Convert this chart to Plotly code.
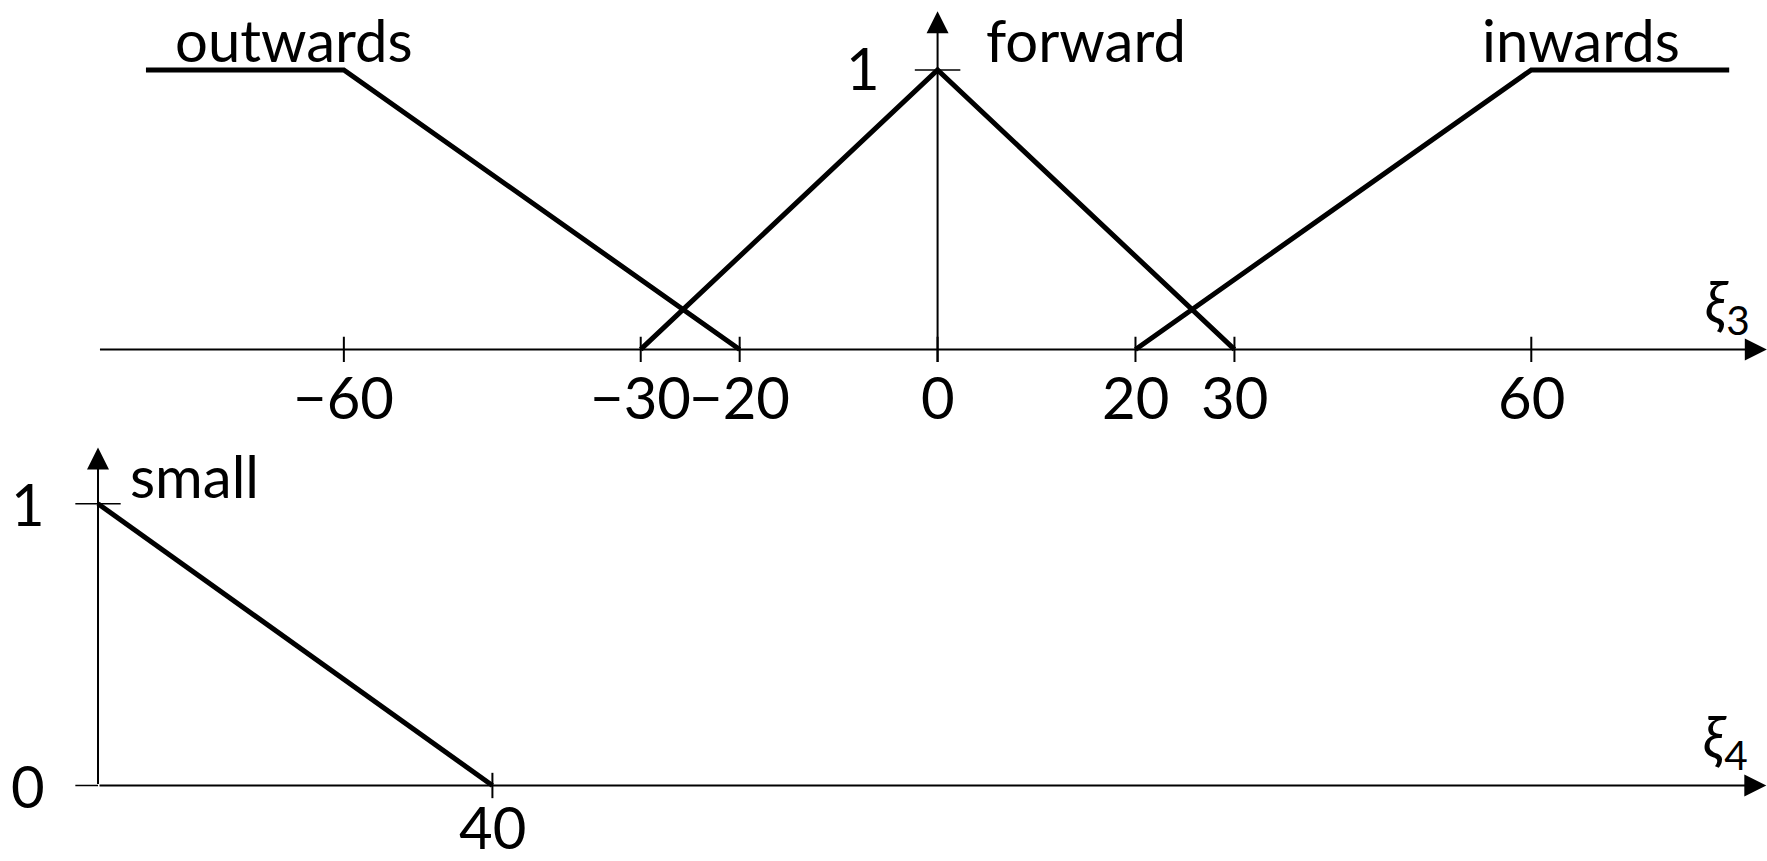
import plotly.graph_objects as go

# membership functions, angle xi3 (degrees) and distance xi4
outwards_x = [-80, -60, -20]
outwards_y = [1, 1, 0]
forward_x = [-30, 0, 30]
forward_y = [0, 1, 0]
inwards_x = [20, 60, 80]
inwards_y = [0, 1, 1]
small_x = [0, 40]
small_y = [1, 0]

top_ticks = [-60, -30, -20, 0, 20, 30, 60]
top_tick_text = ["\u221260", "\u221230", "\u221220", "0", "20", "30", "60"]
bottom_ticks = [40]
bottom_tick_text = ["40"]

FONT = "Lato"
FS = 58
INK = "black"

fig = go.Figure()

for xs, ys in [(outwards_x, outwards_y), (forward_x, forward_y), (inwards_x, inwards_y)]:
    fig.add_trace(go.Scatter(x=xs, y=ys, mode="lines", xaxis="x", yaxis="y",
                             line=dict(color=INK, width=5), hoverinfo="skip"))
fig.add_trace(go.Scatter(x=small_x, y=small_y, mode="lines", xaxis="x2", yaxis="y2",
                         line=dict(color=INK, width=5), hoverinfo="skip"))

shapes = []
annotations = []


def arrow(xref, yref, x0, y0, x1, y1):
    annotations.append(dict(x=x1, y=y1, ax=x0, ay=y0, xref=xref, yref=yref,
                            axref=xref, ayref=yref, text="", showarrow=True,
                            arrowhead=2, arrowsize=2.2, arrowwidth=2, arrowcolor=INK))


def label(xref, yref, x, y, text, xanchor="center", yanchor="middle"):
    annotations.append(dict(x=x, y=y, xref=xref, yref=yref, text=text, showarrow=False,
                            xanchor=xanchor, yanchor=yanchor,
                            font=dict(family=FONT, size=FS, color=INK)))


# top panel axes
arrow("x", "y", -84.8, 0, 83.8, 0)
arrow("x", "y", 0, -0.05, 0, 1.21)
for t, s in zip(top_ticks, top_tick_text):
    shapes.append(dict(type="line", xref="x", yref="y", x0=t, x1=t, y0=-0.045, y1=0.045,
                       line=dict(color=INK, width=2)))
    label("x", "y", t, -0.17, s)
shapes.append(dict(type="line", xref="x", yref="y", x0=-2.3, x1=2.3, y0=1, y1=1,
                   line=dict(color=INK, width=1.5)))
label("x", "y", -5.6, 1.01, "1", xanchor="right")
label("x", "y", -65, 1.11, "outwards")
label("x", "y", 15, 1.11, "forward")
label("x", "y", 65, 1.11, "inwards")
label("x", "y", 82.3, 0.16, "<i>\u03be</i><sub>3</sub>", xanchor="right")

# bottom panel axes
arrow("x2", "y2", 0, 0, 169.2, 0)
arrow("x2", "y2", 0, 0, 0, 1.2)
for t, s in zip(bottom_ticks, bottom_tick_text):
    shapes.append(dict(type="line", xref="x2", yref="y2", x0=t, x1=t, y0=-0.045, y1=0.045,
                       line=dict(color=INK, width=2)))
    label("x2", "y2", t, -0.145, s)
for v in [0, 1]:
    shapes.append(dict(type="line", xref="x2", yref="y2", x0=-2.3, x1=2.3 if v else 0,
                       y0=v, y1=v, line=dict(color=INK, width=1.5)))
    label("x2", "y2", -7.1, v, str(v))
label("x2", "y2", 9.8, 1.10, "small")
label("x2", "y2", 167.5, 0.16, "<i>\u03be</i><sub>4</sub>", xanchor="right")

hidden = dict(visible=False, showgrid=False, zeroline=False, fixedrange=True)
fig.update_layout(
    width=1767, height=861,
    margin=dict(l=0, r=0, t=0, b=0),
    paper_bgcolor="white", plot_bgcolor="white",
    showlegend=False,
    font=dict(family=FONT, size=FS, color=INK),
    xaxis=dict(hidden, range=[-94.75, 83.82], domain=[0, 1], anchor="y"),
    yaxis=dict(hidden, range=[-0.29, 1.25], domain=[0.5, 1], anchor="x"),
    xaxis2=dict(hidden, range=[-9.94, 169.27], domain=[0, 1], anchor="y2"),
    yaxis2=dict(hidden, range=[-0.268, 1.26], domain=[0, 0.5], anchor="x2"),
    shapes=shapes,
    annotations=annotations,
)

# drop the default body margin so the figure sits at the window's corner
fig.write_html("out.html", config={"displayModeBar": False},
               post_script="document.body.style.margin='0';")
